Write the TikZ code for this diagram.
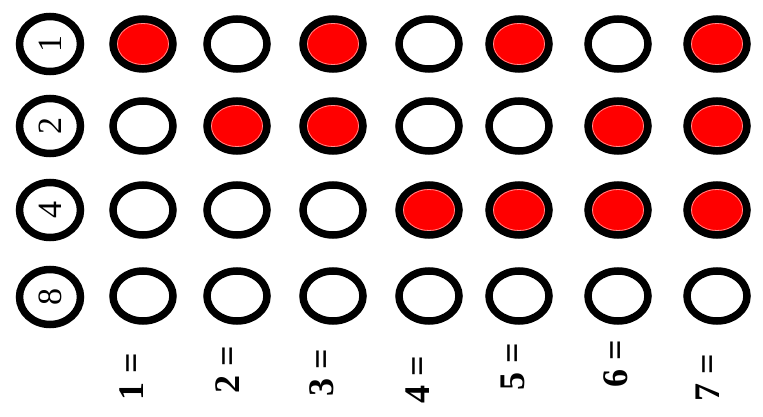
\documentclass[tikz,border=0pt]{standalone}
\usepackage{fontspec}
\setmainfont{Liberation Serif}
\usepackage{graphicx}
\usetikzlibrary{shapes.geometric}

\tikzset{
  bitring/.style={ellipse, draw=black, line width=7.5pt, minimum width=60pt,
    minimum height=50pt, inner sep=0pt, fill=white},
  bit0/.style={bitring},
  bit1/.style={bitring, fill=red, path picture={
    \draw[line width=0.8pt, red!45!white] (path picture bounding box.center) ellipse (25.5 and 20.5);}},
  weightring/.style={bitring, minimum width=61pt, minimum height=55pt,
    font=\fontsize{34}{36}\selectfont},
  valuelabel/.style={rotate=90, inner sep=0pt, font=\bfseries\fontsize{36}{38}\selectfont}
}

\begin{document}
\begin{tikzpicture}[x=1pt, y=-1pt]
  \useasboundingbox (0,0) rectangle (763,417);
  % weights of the four rows
  \foreach \r/\w/\yy in {1/1/44, 2/2/126, 3/4/210, 4/8/297}
    \node[weightring] (w\r) at (50,\yy) {\rotatebox{90}{\w}};
  % one circle per bit, filled when the bit is set
  \foreach \r/\w/\yy in {1/1/44, 2/2/126, 3/4/210, 4/8/296}
    \foreach \c/\xx in {1/143, 2/237, 3/333, 4/429, 5/519, 6/618, 7/717} {
      \pgfmathtruncatemacro\bit{mod(floor(\c/\w),2)}
      \node[bit\bit] (b\r\c) at (\xx,\yy) {};
    }
  % values under the columns
  \foreach \c/\xx/\yy in {1/132/377, 2/228/370, 3/322/373, 4/418/380, 5/513/367, 6/616/364, 7/708/378}
    \node[valuelabel] (v\c) at (\xx,\yy) {\c\ =};
\end{tikzpicture}
\end{document}
